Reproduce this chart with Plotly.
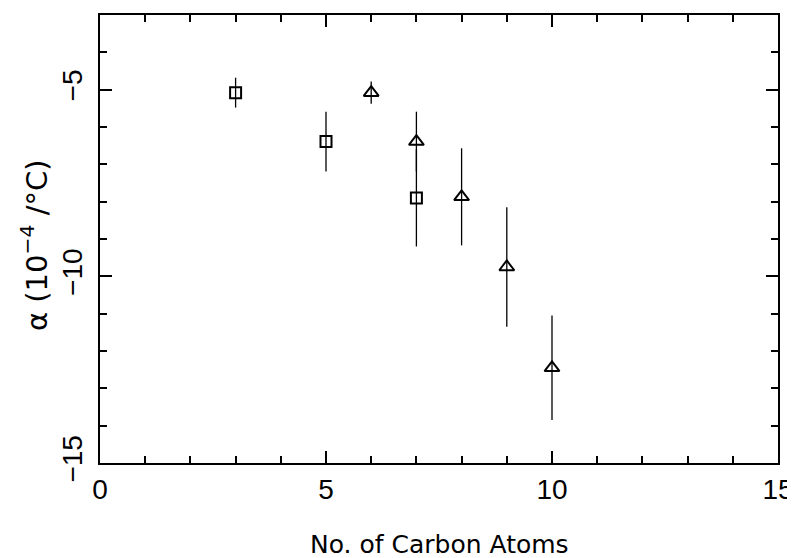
import plotly.graph_objects as go

# Data
sq_x = [3, 5, 7]
sq_y = [-5.08, -6.39, -7.9]
sq_err = [0.4, 0.8, 1.3]

tri_x = [6, 7, 8, 9, 10]
tri_y = [-5.08, -6.39, -7.87, -9.75, -12.45]
tri_err = [0.3, 0.8, 1.3, 1.6, 1.4]

x_ticks = [0, 5, 10, 15]
y_ticks = [-15, -10, -5]

FONT = "Liberation Sans, Arial, Helvetica, sans-serif"
TFONT = "DejaVu Sans, Liberation Sans, sans-serif"

fig = go.Figure()
fig.add_trace(go.Scatter(
    x=sq_x, y=sq_y, mode="markers",
    marker=dict(symbol="square-open", size=11, color="black", line=dict(width=2, color="black")),
    error_y=dict(type="data", array=sq_err, visible=True, width=0, thickness=1.3, color="black"),
    showlegend=False,
))
fig.add_trace(go.Scatter(
    x=tri_x, y=tri_y, mode="markers",
    marker=dict(symbol="triangle-up-open", size=13, color="black", line=dict(width=2, color="black")),
    error_y=dict(type="data", array=tri_err, visible=True, width=0, thickness=1.3, color="black"),
    showlegend=False,
))

axis_common = dict(
    showline=True, linewidth=2, linecolor="black", mirror="ticks",
    ticks="inside", ticklen=12, tickwidth=2, tickcolor="black",
    showgrid=False, zeroline=False, automargin=False,
    tickfont=dict(family=FONT, size=28, color="black"),
)

fig.update_xaxes(
    range=[0, 15], tickvals=x_ticks,
    minor=dict(dtick=1, ticks="inside", ticklen=7, tickwidth=1.5, tickcolor="black", showgrid=False),
    ticklabelstandoff=0,
    **axis_common,
)
fig.update_yaxes(
    range=[-15, -3], tickvals=y_ticks, tickangle=-90,
    minor=dict(dtick=1, ticks="inside", ticklen=7, tickwidth=1.5, tickcolor="black", showgrid=False),
    ticklabelstandoff=5,
    **axis_common,
)

fig.add_annotation(
    text="No. of Carbon Atoms", xref="paper", yref="paper",
    x=0.5, y=-0.181, xanchor="center", yanchor="middle", showarrow=False,
    font=dict(family=TFONT, size=25, color="black"),
)
fig.add_annotation(
    text="α (10<sup>−4</sup> /°C)", xref="paper", yref="paper",
    x=-0.097, y=0.487, xanchor="center", yanchor="middle", showarrow=False,
    textangle=-90,
    font=dict(family=TFONT, size=29, color="black"),
)

# page body adds an 8px offset, so the figure is sized to fit inside the window
fig.update_layout(
    width=787, height=550,
    margin=dict(l=92, r=17, t=7, b=95),
    paper_bgcolor="white", plot_bgcolor="white",
    font=dict(family=FONT, color="black"),
)

fig.write_html("out.html")
